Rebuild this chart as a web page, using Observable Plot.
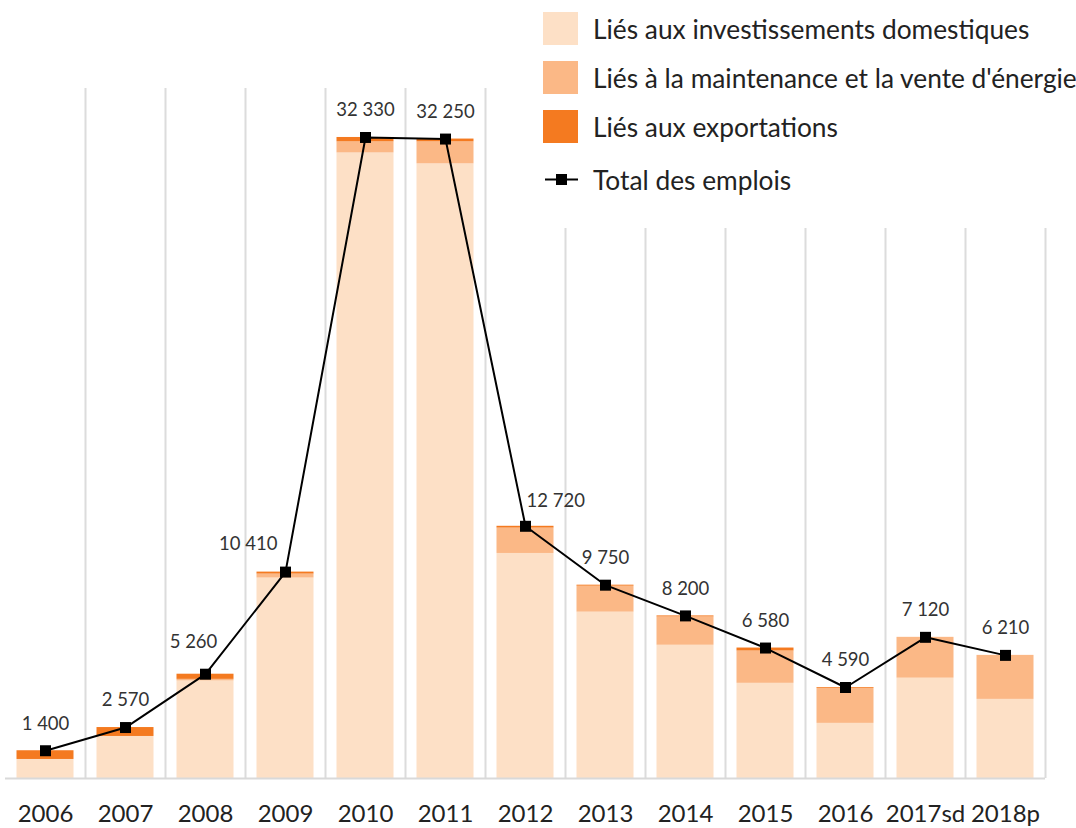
<!DOCTYPE html>
<html>
<head>
<meta charset="utf-8">
<script src="https://cdn.jsdelivr.net/npm/d3@7"></script>
<script src="https://cdn.jsdelivr.net/npm/@observablehq/plot@0.6"></script>
<style>
  body { margin: 0; background: #fff; font-family: Lato, "Open Sans", sans-serif; }
  #wrap { position: relative; width: 1076px; height: 828px; overflow: hidden; }
  #legend { position: absolute; left: 530px; top: 0; width: 546px; height: 228px; background: #fff; color: #222; font-size: 26.3px; }
  .row { position: absolute; left: 13px; display: flex; align-items: center; white-space: nowrap; }
  .sw { width: 35px; height: 33px; margin-right: 15px; }
</style>
</head>
<body>
<div id="wrap">
  <div id="chart"></div>
  <div id="legend"></div>
</div>
<script>
const years = ["2006","2007","2008","2009","2010","2011","2012","2013","2014","2015","2016","2017sd","2018p"];
const seriesNames = ["Liés aux investissements domestiques", "Liés à la maintenance et la vente d'énergie", "Liés aux exportations"];
const domestic    = [960, 2120, 4920, 10110, 31550, 31000, 11350, 8390, 6720, 4800, 2780, 5060, 3990];
const maintenance = [0, 0, 80, 200, 560, 1110, 1280, 1310, 1430, 1630, 1770, 2060, 2220];
const exports     = [440, 450, 260, 100, 220, 140, 90, 50, 50, 150, 40, 0, 0];
const totals      = [1400, 2570, 5260, 10410, 32330, 32250, 12720, 9750, 8200, 6580, 4590, 7120, 6210];
const totalName = "Total des emplois";
const colors = ["#fde0c6", "#fbb886", "#f47a20"];

const long = [];
[domestic, maintenance, exports].forEach((arr, i) => {
  arr.forEach((v, j) => long.push({year: years[j], series: seriesNames[i], value: v}));
});
const totalData = years.map((y, i) => ({year: y, total: totals[i]}));
const fmt = v => d3.format(",")(v).replace(/,/g, " ");

const chart = Plot.plot({
  width: 1076,
  height: 828,
  marginLeft: 5,
  marginRight: 31,
  marginTop: 88,
  marginBottom: 50,
  style: {fontFamily: "Lato, 'Open Sans', sans-serif", background: "#fff"},
  x: {domain: years, padding: 0, axis: null},
  y: {domain: [0, 34800], axis: null},
  color: {domain: seriesNames, range: colors},
  marks: [
    Plot.ruleX(years, {x: d => d, dx: 40, stroke: "#dcdcdc", strokeWidth: 2}),
    Plot.barY(long, {x: "year", y: "value", fill: "series", insetLeft: 11.5, insetRight: 11.5}),
    Plot.ruleY([0], {stroke: "#d9d9d9", strokeWidth: 2}),
    Plot.axisX({tickSize: 0, tickPadding: 26, fontSize: 24, fill: "#222", label: null}),
    Plot.line(totalData, {x: "year", y: "total", stroke: "#000", strokeWidth: 2}),
    Plot.dot(totalData, {x: "year", y: "total", symbol: "square", fill: "#000", r: 6.2}),
    Plot.text(totalData.filter(d => !["2008","2009","2012"].includes(d.year)), {x: "year", y: "total", text: d => fmt(d.total), dy: -27, fontSize: 18.5, fill: "#333"}),
    Plot.text(totalData.filter(d => d.year === "2008"), {x: "year", y: "total", text: d => fmt(d.total), dy: -32, dx: -12, fontSize: 18.5, fill: "#333"}),
    Plot.text(totalData.filter(d => d.year === "2009"), {x: "year", y: "total", text: d => fmt(d.total), dy: -28, dx: -8, textAnchor: "end", fontSize: 18.5, fill: "#333"}),
    Plot.text(totalData.filter(d => d.year === "2012"), {x: "year", y: "total", text: d => fmt(d.total), dy: -25, dx: 1, textAnchor: "start", fontSize: 18.5, fill: "#333"})
  ]
});
document.getElementById("chart").appendChild(chart);

const legend = document.getElementById("legend");
const tops = [12, 61, 110];
seriesNames.forEach((name, i) => {
  const row = document.createElement("div");
  row.className = "row";
  row.style.top = tops[i] + "px";
  row.innerHTML = `<div class="sw" style="background:${colors[i]}"></div><span>${name}</span>`;
  legend.appendChild(row);
});
const trow = document.createElement("div");
trow.className = "row";
trow.style.top = "163px";
trow.innerHTML = `<svg width="35" height="33" style="margin-right:15px"><line x1="2" x2="35" y1="16.5" y2="16.5" stroke="#000" stroke-width="2"/><rect x="13" y="11" width="11" height="11" fill="#000"/></svg><span>${totalName}</span>`;
legend.appendChild(trow);
</script>
</body>
</html>
